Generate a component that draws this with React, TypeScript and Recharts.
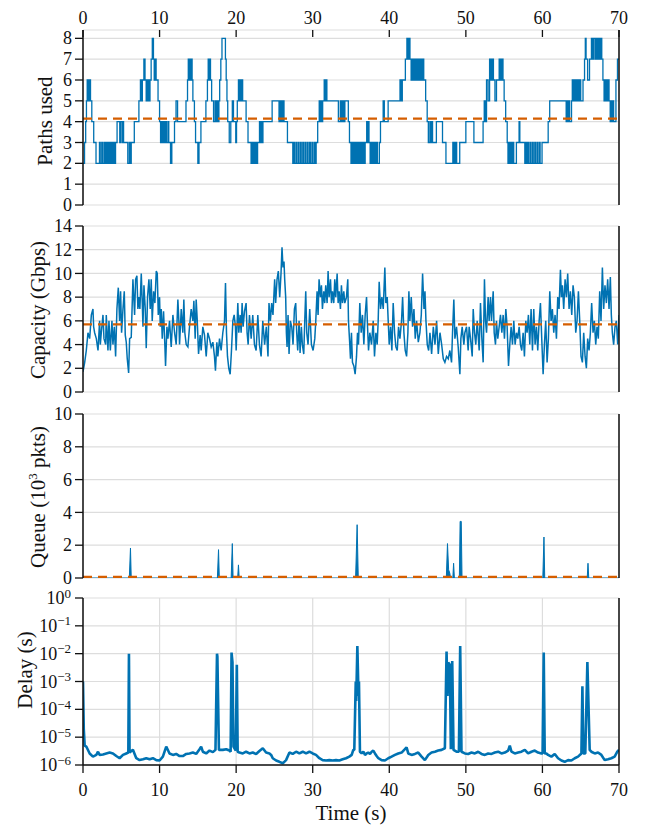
import React from 'react';
import {
  LineChart,
  AreaChart,
  Line,
  Area,
  XAxis,
  YAxis,
  CartesianGrid,
  ReferenceLine,
} from 'recharts';

// ---- palette & type ----
const BLUE = '#0072B2';
const ORANGE = '#D55E00';
const GRID = '#dddddd';
const AXIS = '#111111';
const FONT = '"Liberation Serif", "Times New Roman", serif';

// ---- axis ticks ----
const timeTicks = [0, 10, 20, 30, 40, 50, 60, 70];
const pathsTicks = [0, 1, 2, 3, 4, 5, 6, 7, 8];
const capacityTicks = [0, 2, 4, 6, 8, 10, 12, 14];
const queueTicks = [0, 2, 4, 6, 8, 10];
const delayTicks = [1e-6, 1e-5, 1e-4, 1e-3, 1e-2, 1e-1, 1];

// ---- run averages (dashed) ----
const pathsMean = 4.15;
const capacityMean = 5.7;
const queueMean = 0.07;

// ---- series: [time (s), value] ----
const pathsUsed: [number, number][] = [
  [0, 2], [0.2, 3], [0.35, 4], [0.45, 5], [0.55, 6], [0.65, 5], [0.72, 6], [0.8, 5], [0.88, 6], [0.98, 5],
  [1.15, 4], [1.4, 3], [1.7, 2], [2.15, 3], [2.25, 2], [2.45, 3], [2.55, 2], [2.75, 3], [2.85, 2], [3.0, 3],
  [3.1, 2], [3.25, 3], [3.35, 2], [3.5, 3], [3.6, 2], [3.75, 3], [3.85, 2], [4.0, 3], [4.1, 2], [4.25, 3],
  [4.45, 4], [4.8, 3], [4.9, 4], [5.1, 3], [5.2, 4], [5.3, 3], [5.85, 2], [6.05, 3], [6.15, 2], [6.3, 3],
  [6.7, 4], [7.3, 5], [7.5, 6], [7.65, 5], [7.75, 6], [7.95, 7], [8.1, 6], [8.25, 5], [8.35, 6], [8.45, 5],
  [8.55, 6], [8.65, 5], [8.75, 6], [8.9, 7], [9.05, 8], [9.2, 7], [9.3, 6], [9.4, 7], [9.55, 6], [9.8, 5],
  [10.0, 4], [10.13, 3], [10.3, 4], [10.4, 3], [10.55, 4], [10.65, 3], [10.8, 4], [10.9, 3], [11.1, 4], [11.2, 3],
  [11.43, 2], [11.6, 3], [11.95, 4], [12.15, 5], [12.35, 4], [13.45, 5], [13.65, 6], [13.75, 7], [13.85, 6], [13.95, 7],
  [14.05, 6], [14.15, 7], [14.25, 6], [14.35, 5], [14.55, 4], [14.7, 3], [15.0, 2], [15.15, 3], [15.4, 4], [16.05, 5],
  [16.25, 6], [16.35, 7], [16.45, 6], [16.55, 7], [16.65, 6], [16.8, 5], [17.05, 4], [17.25, 5], [17.4, 4], [17.5, 5],
  [17.6, 4], [17.75, 5], [17.85, 6], [18.0, 7], [18.15, 8], [18.6, 7], [18.7, 6], [18.8, 5], [18.9, 4], [19.1, 3],
  [19.3, 4], [19.5, 5], [19.65, 4], [19.95, 3], [20.05, 4], [20.15, 5], [20.3, 6], [20.4, 5], [20.5, 6], [20.6, 5],
  [20.7, 6], [20.85, 5], [21.3, 4], [21.55, 3], [21.95, 2], [22.1, 3], [22.2, 2], [22.35, 3], [22.45, 2], [22.6, 3],
  [22.7, 2], [22.8, 3], [23.05, 4], [23.15, 3], [23.25, 4], [23.4, 3], [23.5, 4], [24.7, 5], [25.6, 4], [25.7, 5],
  [25.8, 4], [25.9, 5], [26.0, 4], [26.1, 5], [26.25, 4], [26.7, 3], [27.4, 2], [27.5, 3], [27.6, 2], [27.8, 3],
  [27.9, 2], [28.1, 3], [28.2, 2], [28.4, 3], [28.5, 2], [28.7, 3], [28.8, 2], [29.0, 3], [29.1, 2], [29.3, 3],
  [29.4, 2], [29.6, 3], [29.7, 2], [29.9, 3], [30.0, 2], [30.2, 3], [30.3, 2], [30.45, 3], [30.65, 4], [30.85, 5],
  [30.95, 4], [31.05, 5], [31.15, 4], [31.3, 5], [31.5, 6], [31.6, 5], [31.7, 6], [31.85, 5], [33.35, 4], [33.6, 5],
  [33.7, 4], [33.8, 5], [33.9, 4], [34.0, 5], [34.1, 4], [34.2, 5], [34.65, 4], [34.8, 3], [35.0, 2], [35.15, 3],
  [35.25, 2], [35.4, 3], [35.5, 2], [35.6, 3], [35.7, 2], [35.85, 3], [35.95, 2], [36.1, 3], [36.2, 2], [36.35, 3],
  [36.45, 2], [36.6, 3], [36.7, 2], [36.85, 3], [37.05, 4], [37.15, 3], [37.25, 4], [37.35, 3], [37.5, 2], [37.6, 3],
  [37.7, 2], [37.85, 3], [37.95, 2], [38.1, 3], [38.2, 2], [38.35, 3], [38.45, 2], [38.7, 3], [38.85, 4], [39.2, 5],
  [39.35, 4], [39.85, 5], [41.4, 6], [41.55, 5], [41.7, 6], [42.1, 7], [42.3, 8], [42.45, 7], [42.55, 8], [42.7, 7],
  [42.85, 6], [42.95, 7], [43.05, 6], [43.15, 7], [43.25, 6], [43.35, 7], [43.45, 6], [43.55, 7], [43.65, 6], [43.75, 7],
  [43.85, 6], [43.95, 7], [44.05, 6], [44.15, 7], [44.25, 6], [44.35, 7], [44.5, 6], [44.75, 5], [44.95, 4], [45.1, 3],
  [45.3, 4], [45.4, 3], [45.55, 4], [45.65, 3], [46.15, 4], [46.95, 3], [47.4, 2], [48.3, 3], [48.4, 2], [48.5, 3],
  [48.6, 2], [48.7, 3], [48.8, 2], [49.2, 3], [50.0, 4], [51.05, 3], [52.25, 4], [52.4, 5], [52.55, 4], [52.7, 6],
  [52.9, 5], [53.1, 7], [53.2, 6], [53.3, 7], [53.4, 6], [53.5, 7], [53.6, 6], [53.8, 5], [54.0, 6], [54.35, 7],
  [54.45, 6], [54.55, 7], [54.65, 6], [54.75, 7], [54.85, 6], [55.0, 5], [55.2, 4], [55.4, 3], [55.5, 2], [55.65, 3],
  [55.75, 2], [55.9, 3], [56.0, 2], [56.15, 3], [56.25, 2], [56.6, 3], [56.95, 4], [57.05, 3], [57.7, 2], [57.85, 3],
  [57.95, 2], [58.1, 3], [58.2, 2], [58.4, 3], [58.5, 2], [58.7, 3], [58.8, 2], [59.0, 3], [59.1, 2], [59.3, 3],
  [59.4, 2], [59.6, 3], [59.7, 2], [59.95, 3], [60.75, 4], [60.95, 5], [63.1, 4], [63.2, 5], [63.3, 4], [63.45, 5],
  [63.55, 4], [63.8, 5], [63.9, 6], [64.0, 5], [64.1, 6], [64.2, 5], [64.3, 6], [64.4, 5], [64.5, 6], [64.6, 5],
  [64.7, 6], [64.8, 5], [64.9, 6], [65.0, 5], [65.3, 6], [65.5, 7], [65.6, 8], [65.7, 7], [65.9, 6], [66.15, 7],
  [66.4, 8], [66.55, 7], [66.7, 8], [66.9, 7], [67.0, 8], [67.1, 7], [67.2, 8], [67.3, 7], [67.4, 8], [67.5, 7],
  [67.6, 8], [67.75, 7], [67.9, 6], [68.05, 5], [68.15, 6], [68.25, 5], [68.35, 6], [68.45, 5], [68.55, 6], [68.7, 5],
  [68.85, 4], [69.0, 5], [69.1, 4], [69.2, 5], [69.3, 4], [69.6, 6], [69.8, 7], [70, 7],
];

const capacityGbps: [number, number][] = [
  [0, 1.7], [0.22, 2.5], [0.43, 3.5], [0.65, 5], [0.87, 4.5], [1.09, 6.5], [1.3, 7], [1.39, 5.5], [1.52, 5], [1.74, 4.5],
  [1.96, 3.5], [2.17, 6], [2.26, 4], [2.39, 5], [2.61, 6.5], [2.74, 4.5], [2.96, 4], [3.04, 6.5], [3.26, 3.5], [3.39, 6],
  [3.57, 3.5], [3.78, 6], [3.91, 4], [4.09, 5.5], [4.26, 3], [4.43, 7], [4.61, 8.8], [4.78, 6], [4.91, 8.5], [5.04, 5],
  [5.22, 7], [5.39, 8.5], [5.52, 4.8], [5.65, 4.2], [5.78, 2.8], [5.96, 1.6], [6.09, 4.5], [6.3, 4.6], [6.52, 9.5], [6.74, 6.5],
  [6.87, 9.5], [7.04, 9.8], [7.17, 7], [7.3, 8], [7.43, 7], [7.61, 10], [7.74, 7.5], [7.83, 5.5], [7.96, 9], [8.13, 7],
  [8.26, 3.7], [8.43, 8], [8.61, 9.5], [8.78, 7], [8.91, 9.5], [9.04, 6], [9.22, 8.5], [9.39, 7.5], [9.57, 10.2], [9.7, 10],
  [9.83, 6.5], [10.0, 8], [10.09, 5.5], [10.22, 7], [10.35, 4.5], [10.52, 6.8], [10.7, 3.8], [10.78, 2.2], [10.96, 5.5], [11.09, 4.5],
  [11.3, 6], [11.52, 3.8], [11.74, 6.5], [11.96, 5], [12.17, 4], [12.39, 7.8], [12.52, 6], [12.61, 4], [12.83, 7], [13.04, 5],
  [13.17, 7.8], [13.3, 5], [13.48, 4], [13.7, 3.8], [13.91, 5.5], [14.13, 7], [14.35, 6], [14.48, 7.7], [14.65, 4.5], [14.78, 7.8],
  [14.91, 6.2], [15.09, 3.2], [15.3, 4.8], [15.43, 3.5], [15.65, 5.5], [15.87, 4.8], [16.09, 3], [16.3, 5], [16.52, 4.5], [16.74, 3.8],
  [16.96, 4.2], [17.17, 3], [17.3, 1.8], [17.48, 4.2], [17.61, 3], [17.83, 4.5], [18.04, 3.5], [18.26, 5], [18.48, 6], [18.61, 9.2],
  [18.74, 5], [18.87, 3], [19.04, 2], [19.22, 1.5], [19.39, 3.5], [19.57, 6], [19.74, 6.5], [19.91, 5.5], [20.0, 3.5], [20.22, 7.5],
  [20.35, 5], [20.52, 6.5], [20.65, 5], [20.78, 7.5], [20.91, 5.5], [21.09, 6.8], [21.3, 7.5], [21.43, 5], [21.57, 4], [21.74, 6.5],
  [21.96, 4.5], [22.17, 6.5], [22.39, 4], [22.61, 3.5], [22.83, 6.5], [23.04, 4], [23.26, 3], [23.48, 6], [23.72, 4], [23.94, 5.5],
  [24.16, 3], [24.29, 7.5], [24.47, 6], [24.64, 7.5], [24.81, 6.5], [25.03, 9.5], [25.16, 7.5], [25.34, 9.5], [25.51, 10.2], [25.69, 8],
  [25.86, 10], [25.99, 12.2], [26.12, 10.5], [26.25, 11], [26.34, 9.5], [26.47, 8], [26.56, 5], [26.65, 3.8], [26.78, 6.5], [26.91, 3.2],
  [27.08, 6], [27.26, 5.5], [27.43, 4], [27.61, 7], [27.78, 7.5], [27.91, 5], [28.04, 3.5], [28.22, 6], [28.35, 3.3], [28.52, 5.5],
  [28.65, 4], [28.83, 3.2], [28.96, 6], [29.09, 8.5], [29.22, 5], [29.39, 4], [29.61, 7], [29.83, 4], [30.05, 3.5], [30.27, 4.5],
  [30.4, 6], [30.57, 8.5], [30.7, 6.5], [30.83, 9.5], [31.01, 8], [31.14, 9], [31.27, 7], [31.44, 8.5], [31.57, 7.5], [31.7, 9],
  [31.88, 7.5], [32.01, 10.2], [32.14, 8], [32.32, 9.5], [32.45, 7.5], [32.58, 8.5], [32.75, 7.5], [32.88, 9.5], [33.01, 8], [33.19, 10],
  [33.32, 7.5], [33.45, 8.5], [33.62, 7], [33.75, 9], [33.89, 7.5], [34.06, 8.5], [34.19, 7.5], [34.41, 8], [34.58, 9.5], [34.67, 6],
  [34.84, 4], [34.93, 2.8], [35.06, 5], [35.19, 2.5], [35.37, 2.2], [35.54, 1.5], [35.72, 3], [35.85, 5], [35.98, 4], [36.15, 7.5],
  [36.33, 5], [36.5, 6.5], [36.68, 4], [36.85, 6.5], [37.03, 8], [37.16, 5.5], [37.29, 3.5], [37.46, 5], [37.68, 4], [37.9, 6],
  [38.07, 3], [38.25, 5], [38.42, 4], [38.55, 6], [38.68, 9.3], [38.86, 7], [39.03, 8], [39.21, 7], [39.42, 10.5], [39.55, 7.5],
  [39.73, 8], [39.86, 6], [39.99, 4], [40.17, 5.5], [40.34, 3.5], [40.51, 7.5], [40.69, 5], [40.86, 3.8], [41.04, 3.5], [41.21, 5.5],
  [41.39, 4.5], [41.6, 6], [41.74, 8], [41.91, 5], [42.08, 3.5], [42.26, 3], [42.43, 5], [42.56, 8.5], [42.69, 6], [42.87, 8],
  [43.04, 5.5], [43.22, 7], [43.39, 4.5], [43.57, 6], [43.79, 4.2], [44.0, 5], [44.18, 6.5], [44.35, 10], [44.53, 7], [44.66, 8.5],
  [44.79, 6], [44.96, 4], [45.14, 3.5], [45.31, 5], [45.53, 3.2], [45.75, 5.5], [45.97, 4], [46.18, 6], [46.4, 3.2], [46.62, 5],
  [46.84, 4], [47.05, 2.8], [47.26, 2.5], [47.48, 3], [47.7, 2.8], [47.91, 3.5], [48.13, 2.5], [48.26, 5], [48.43, 7.8], [48.57, 4.5],
  [48.78, 5.5], [49.0, 3.8], [49.22, 1.5], [49.35, 4.5], [49.52, 5.5], [49.74, 4], [49.87, 5], [50.09, 5.5], [50.3, 3.5], [50.43, 5.5],
  [50.61, 4.5], [50.83, 3], [50.96, 7], [51.13, 5], [51.3, 4], [51.48, 6], [51.74, 3.5], [51.91, 7.5], [52.09, 4.5], [52.26, 2.5],
  [52.43, 9.5], [52.57, 6], [52.7, 5], [52.91, 8], [53.04, 6], [53.22, 8], [53.35, 6], [53.57, 8.5], [53.7, 5], [53.87, 4],
  [54.0, 6], [54.17, 4.5], [54.35, 5.5], [54.52, 6.5], [54.7, 5], [54.87, 6.5], [55.04, 4.5], [55.22, 7], [55.39, 5.5], [55.57, 2.2],
  [55.74, 4], [55.91, 5.5], [56.09, 4], [56.26, 6], [56.43, 4], [56.61, 5], [56.78, 4.5], [56.96, 5.5], [57.13, 4], [57.3, 3.5],
  [57.48, 5], [57.65, 3], [57.83, 6], [58.0, 5], [58.17, 6.5], [58.35, 4], [58.52, 7], [58.7, 3.5], [58.87, 7], [59.04, 4],
  [59.22, 5.5], [59.39, 3.5], [59.57, 6], [59.74, 7.5], [59.91, 4.5], [60.09, 1.5], [60.26, 4], [60.43, 6], [60.61, 2.5], [60.78, 4.5],
  [60.96, 8.5], [61.13, 6], [61.3, 7], [61.48, 5], [61.65, 6.5], [61.83, 4.5], [62.0, 8], [62.17, 7], [62.35, 10.3], [62.48, 8],
  [62.61, 9], [62.78, 7], [62.96, 9.5], [63.13, 8], [63.3, 10], [63.48, 7], [63.65, 8.5], [63.83, 6.5], [64.0, 9], [64.17, 8],
  [64.35, 5], [64.52, 6], [64.7, 8.5], [64.87, 6], [65.04, 3], [65.22, 2.5], [65.39, 5], [65.57, 3], [65.74, 2], [65.91, 4.5],
  [66.09, 3.5], [66.26, 5], [66.43, 7.5], [66.61, 5], [66.78, 6], [66.96, 4], [67.13, 5.5], [67.3, 4.5], [67.48, 8.5], [67.65, 6],
  [67.83, 10.5], [68.0, 7], [68.17, 9], [68.35, 7.5], [68.52, 9.5], [68.7, 7], [68.87, 9.7], [69.0, 6.5], [69.13, 5], [69.3, 4],
  [69.48, 5.5], [69.65, 6], [69.83, 4], [70, 6.5],
];

const queueKpkts: [number, number][] = [
  [0, 0], [6.05, 0], [6.2, 1.83], [6.3, 0], [17.55, 0], [17.7, 1.73], [17.8, 0], [19.35, 0], [19.5, 2.1], [19.6, 0],
  [20.2, 0], [20.3, 0.8], [20.4, 0], [35.6, 0], [35.8, 3.25], [35.95, 0], [47.45, 0], [47.6, 2.1], [47.75, 0.5], [47.9, 0.3],
  [48.0, 0], [48.3, 0], [48.4, 0.9], [48.5, 0], [49.15, 0], [49.25, 3.45], [49.4, 3.45], [49.5, 0], [60.05, 0], [60.2, 2.5],
  [60.3, 0], [65.05, 0], [65.1, 0.1], [65.15, 0], [65.85, 0], [65.95, 0.9], [66.05, 0], [70, 0],
];

const delaySec: [number, number][] = [
  [0, 1.0e-3], [0.1, 2.0e-5], [0.22, 5.0e-6], [0.43, 4.6e-6], [0.87, 2.6e-6], [1.3, 2.0e-6], [1.74, 2.3e-6], [1.96, 3.0e-6], [2.17, 2.3e-6], [2.61, 2.4e-6],
  [3.04, 2.6e-6], [3.48, 2.8e-6], [3.91, 2.6e-6], [4.35, 2.1e-6], [4.78, 1.75e-6], [5.22, 2.3e-6], [5.65, 2.6e-6], [5.92, 2.8e-6], [6.0, 1.0e-2], [6.08, 2.8e-6],
  [6.52, 3.5e-6], [6.96, 1.75e-6], [7.39, 1.5e-6], [7.83, 1.6e-6], [8.26, 1.75e-6], [8.7, 1.6e-6], [9.13, 1.75e-6], [9.57, 1.5e-6], [10.0, 1.45e-6], [10.43, 2.0e-6],
  [10.87, 4.6e-6], [11.3, 2.6e-6], [11.74, 2.3e-6], [12.17, 2.5e-6], [12.61, 2.1e-6], [13.04, 2.1e-6], [13.48, 2.5e-6], [13.91, 2.6e-6], [14.35, 2.8e-6], [14.78, 2.5e-6],
  [15.22, 3.7e-6], [15.43, 4.6e-6], [15.65, 3.0e-6], [16.09, 2.6e-6], [16.52, 3.3e-6], [16.96, 2.9e-6], [17.3, 3.5e-6], [17.5, 1.0e-2], [17.55, 8.0e-3], [17.75, 3.5e-6],
  [18.26, 3.5e-6], [18.7, 3.7e-6], [19.13, 3.3e-6], [19.28, 3.0e-6], [19.4, 1.1e-2], [19.52, 5.0e-3], [19.65, 4.6e-6], [19.95, 3.3e-6], [20.09, 4.0e-3], [20.2, 3.0e-6],
  [20.43, 2.8e-6], [20.87, 2.6e-6], [21.3, 3.0e-6], [21.74, 2.6e-6], [22.17, 2.8e-6], [22.61, 2.5e-6], [23.04, 3.2e-6], [23.48, 4.0e-6], [23.91, 2.8e-6], [24.35, 2.6e-6],
  [24.57, 2.3e-6], [24.78, 1.75e-6], [25.22, 1.45e-6], [25.65, 1.3e-6], [26.09, 1.15e-6], [26.52, 1.5e-6], [26.96, 2.8e-6], [27.39, 2.5e-6], [27.83, 3.0e-6], [28.26, 2.6e-6],
  [28.7, 3.0e-6], [29.13, 2.6e-6], [29.57, 3.0e-6], [30.0, 2.6e-6], [30.43, 2.3e-6], [30.87, 1.75e-6], [31.3, 1.5e-6], [31.74, 1.45e-6], [32.17, 1.5e-6], [32.61, 1.45e-6],
  [33.04, 1.5e-6], [33.48, 1.45e-6], [33.91, 1.6e-6], [34.35, 1.75e-6], [34.78, 2.0e-6], [35.09, 2.3e-6], [35.3, 3.5e-6], [35.43, 3.5e-6], [35.62, 1.0e-3], [35.68, 2.0e-4],
  [35.83, 1.9e-2], [35.98, 3.0e-4], [36.04, 1.0e-3], [36.17, 3.0e-6], [36.39, 2.6e-6], [36.61, 3.0e-6], [36.83, 2.3e-6], [37.04, 2.6e-6], [37.26, 2.8e-6], [37.48, 2.5e-6],
  [37.7, 3.0e-6], [37.91, 3.3e-6], [38.13, 2.6e-6], [38.35, 2.1e-6], [38.57, 1.75e-6], [39.0, 1.5e-6], [39.43, 1.45e-6], [39.87, 1.75e-6], [40.3, 2.0e-6], [40.74, 2.3e-6],
  [41.17, 2.6e-6], [41.61, 2.8e-6], [42.04, 3.7e-6], [42.26, 4.3e-6], [42.48, 2.6e-6], [42.91, 2.3e-6], [43.35, 2.5e-6], [43.78, 2.8e-6], [44.22, 2.0e-6], [44.65, 1.5e-6],
  [45.09, 2.3e-6], [45.52, 2.8e-6], [45.96, 3.0e-6], [46.39, 3.3e-6], [46.83, 3.5e-6], [47.26, 4.0e-6], [47.48, 1.2e-2], [47.6, 3.0e-4], [47.7, 4.8e-3], [47.91, 4.0e-3],
  [48.04, 3.7e-6], [48.22, 5.4e-3], [48.39, 3.5e-6], [48.78, 3.0e-6], [49.09, 3.0e-6], [49.26, 1.9e-2], [49.43, 3.0e-6], [49.87, 2.6e-6], [50.3, 2.5e-6], [50.74, 2.8e-6],
  [51.17, 2.6e-6], [51.61, 3.0e-6], [52.04, 2.5e-6], [52.48, 2.3e-6], [52.91, 2.6e-6], [53.35, 2.5e-6], [53.78, 2.8e-6], [54.22, 3.0e-6], [54.65, 2.6e-6], [55.09, 2.8e-6],
  [55.52, 3.3e-6], [55.74, 5.0e-6], [55.96, 3.0e-6], [56.39, 2.6e-6], [56.83, 2.8e-6], [57.26, 3.0e-6], [57.7, 3.5e-6], [58.13, 2.6e-6], [58.57, 3.0e-6], [59.0, 3.3e-6],
  [59.43, 2.8e-6], [59.87, 2.6e-6], [60.02, 2.6e-6], [60.17, 1.1e-2], [60.3, 2.6e-6], [60.52, 2.6e-6], [60.74, 2.3e-6], [61.17, 2.0e-6], [61.61, 2.5e-6], [62.04, 1.75e-6],
  [62.48, 1.45e-6], [62.91, 1.3e-6], [63.35, 1.5e-6], [63.78, 1.45e-6], [64.22, 1.75e-6], [64.65, 2.0e-6], [65.09, 2.6e-6], [65.22, 6.7e-4], [65.35, 2.6e-6], [65.6, 2.6e-6],
  [65.87, 5.0e-3], [66.17, 3.5e-6], [66.39, 3.0e-6], [66.83, 2.6e-6], [67.26, 2.8e-6], [67.7, 2.3e-6], [68.13, 1.5e-6], [68.57, 1.6e-6], [69.0, 1.75e-6], [69.43, 2.0e-6],
  [69.78, 3.0e-6], [70, 3.5e-6],
];

// ---- chart rows ----
const toRows = (pairs: [number, number][]) => pairs.map(([t, v]) => ({ t, v }));
const pathsRows = toRows(pathsUsed);
const capacityRows = toRows(capacityGbps);
const queueRows = toRows(queueKpkts);
const delayRows = toRows(delaySec);

// ---- geometry shared by all panels ----
const W = 645;
const MARGIN_LEFT = 20;
const Y_AXIS_W = 63;
const MARGIN_RIGHT = 26;
const TICK_FONT = 18;

// ---- tick renderers ----
const LeftTick = (props: any) => {
  const { x, y, payload } = props;
  return (
    <g>
      <line x1={x - 8} x2={x} y1={y} y2={y} stroke={AXIS} strokeWidth={1.3} />
      <text x={x - 11} y={y} dy="0.34em" textAnchor="end" fontFamily={FONT} fontSize={TICK_FONT} fill="#111">
        {payload.value}
      </text>
    </g>
  );
};

const LogTick = (props: any) => {
  const { x, y, payload } = props;
  const exp = Math.round(Math.log10(payload.value));
  const label = exp === 0 ? '0' : '\u2212' + Math.abs(exp);
  return (
    <g>
      <line x1={x - 8} x2={x} y1={y} y2={y} stroke={AXIS} strokeWidth={1.3} />
      <text x={x - 12} y={y} dy="0.34em" textAnchor="end" fontFamily={FONT} fontSize={TICK_FONT} fill="#111">
        10
        <tspan dy="-0.5em" fontSize={13}>{label}</tspan>
      </text>
    </g>
  );
};

const TopTick = (props: any) => {
  const { x, y, payload } = props;
  return (
    <g>
      <line x1={x} x2={x} y1={y} y2={y + 7} stroke={AXIS} strokeWidth={1.3} />
      <text x={x} y={y - 6} textAnchor="middle" fontFamily={FONT} fontSize={TICK_FONT} fill="#111">
        {payload.value}
      </text>
    </g>
  );
};

const BottomTick = (props: any) => {
  const { x, y, payload } = props;
  return (
    <g>
      <line x1={x} x2={x} y1={y} y2={y + 8} stroke={AXIS} strokeWidth={1.3} />
      <text x={x} y={y + 31} textAnchor="middle" fontFamily={FONT} fontSize={TICK_FONT} fill="#111">
        {payload.value}
      </text>
    </g>
  );
};

const axisLine = { stroke: AXIS, strokeWidth: 1.5 };

const timeAxis = (withTicks: boolean) => (
  <XAxis
    type="number"
    dataKey="t"
    domain={[0, 70]}
    ticks={timeTicks}
    interval={0}
    allowDataOverflow
    height={withTicks ? 50 : 0}
    axisLine={axisLine}
    tickLine={false}
    tickSize={0}
    tickMargin={0}
    tick={withTicks ? <BottomTick /> : false}
  />
);

const rightSpine = <ReferenceLine x={70} stroke={AXIS} strokeWidth={1.5} />;

const meanLine = (y: number) => (
  <ReferenceLine y={y} stroke={ORANGE} strokeWidth={2.2} strokeDasharray="9 6" />
);

const grid = <CartesianGrid stroke={GRID} strokeWidth={1.2} />;

// ---- axis titles (HTML overlay) ----
const titleStyle: React.CSSProperties = {
  position: 'absolute',
  fontFamily: FONT,
  fontSize: 21,
  lineHeight: 1,
  color: '#111',
  whiteSpace: 'nowrap',
};

const VTitle = ({ cx, cy, children }: { cx: number; cy: number; children: React.ReactNode }) => (
  <div style={{ ...titleStyle, left: cx, top: cy, transform: 'translate(-50%, -50%) rotate(-90deg)' }}>{children}</div>
);

export default function App() {
  return (
    <div style={{ position: 'absolute', left: 0, top: 0, width: W, height: 827, background: '#fff' }}>
      {/* Paths used */}
      <div style={{ position: 'absolute', left: 0, top: 0 }}>
        <LineChart width={W} height={225} data={pathsRows} margin={{ top: 0, right: MARGIN_RIGHT, bottom: 20, left: MARGIN_LEFT }}>
          {grid}
          <XAxis
            xAxisId="top"
            orientation="top"
            type="number"
            dataKey="t"
            domain={[0, 70]}
            ticks={timeTicks}
            interval={0}
            height={30}
            axisLine={false}
            tickLine={false}
            tickSize={0}
            tickMargin={0}
            tick={<TopTick />}
          />
          {timeAxis(false)}
          <YAxis
            type="number"
            domain={[0, 8.4]}
            ticks={pathsTicks}
            interval={0}
            width={Y_AXIS_W}
            allowDataOverflow
            axisLine={axisLine}
            tickLine={false}
            tickSize={0}
            tickMargin={0}
            tick={<LeftTick />}
          />
          <Line type="stepAfter" dataKey="v" stroke={BLUE} strokeWidth={1.3} dot={false} isAnimationActive={false} />
          {meanLine(pathsMean)}
          {rightSpine}
        </LineChart>
      </div>

      {/* Capacity */}
      <div style={{ position: 'absolute', left: 0, top: 216 }}>
        <LineChart width={W} height={190} data={capacityRows} margin={{ top: 10, right: MARGIN_RIGHT, bottom: 14, left: MARGIN_LEFT }}>
          {grid}
          {timeAxis(false)}
          <YAxis
            type="number"
            domain={[0, 14]}
            ticks={capacityTicks}
            interval={0}
            width={Y_AXIS_W}
            allowDataOverflow
            axisLine={axisLine}
            tickLine={false}
            tickSize={0}
            tickMargin={0}
            tick={<LeftTick />}
          />
          <Line type="linear" dataKey="v" stroke={BLUE} strokeWidth={1.5} dot={false} isAnimationActive={false} />
          {meanLine(capacityMean)}
          {rightSpine}
        </LineChart>
      </div>

      {/* Queue */}
      <div style={{ position: 'absolute', left: 0, top: 404 }}>
        <AreaChart width={W} height={190} data={queueRows} margin={{ top: 10, right: MARGIN_RIGHT, bottom: 16, left: MARGIN_LEFT }}>
          {grid}
          {timeAxis(false)}
          <YAxis
            type="number"
            domain={[0, 10]}
            ticks={queueTicks}
            interval={0}
            width={Y_AXIS_W}
            allowDataOverflow
            axisLine={axisLine}
            tickLine={false}
            tickSize={0}
            tickMargin={0}
            tick={<LeftTick />}
          />
          <Area
            type="linear"
            dataKey="v"
            stroke={BLUE}
            strokeWidth={1}
            fill={BLUE}
            fillOpacity={1}
            baseValue={0}
            dot={false}
            isAnimationActive={false}
          />
          {meanLine(queueMean)}
          {rightSpine}
        </AreaChart>
      </div>

      {/* Delay */}
      <div style={{ position: 'absolute', left: 0, top: 578 }}>
        <LineChart width={W} height={249} data={delayRows} margin={{ top: 20, right: MARGIN_RIGHT, bottom: 12, left: MARGIN_LEFT }}>
          {grid}
          {timeAxis(true)}
          <YAxis
            type="number"
            scale="log"
            domain={[1e-6, 1]}
            ticks={delayTicks}
            interval={0}
            width={Y_AXIS_W}
            allowDataOverflow
            axisLine={axisLine}
            tickLine={false}
            tickSize={0}
            tickMargin={0}
            tick={<LogTick />}
          />
          <Line
            type="linear"
            dataKey="v"
            stroke={BLUE}
            strokeWidth={2.6}
            strokeLinejoin="bevel"
            dot={false}
            isAnimationActive={false}
          />
          {rightSpine}
        </LineChart>
      </div>

      {/* axis titles */}
      <VTitle cx={45} cy={121}>Paths used</VTitle>
      <VTitle cx={38} cy={310}>Capacity (Gbps)</VTitle>
      <VTitle cx={38} cy={497}>
        Queue (10<sup style={{ fontSize: 13, verticalAlign: 'super', lineHeight: 0 }}>3</sup> pkts)
      </VTitle>
      <VTitle cx={25} cy={670}>Delay (s)</VTitle>
      <div style={{ ...titleStyle, left: 351, top: 813, transform: 'translate(-50%, -50%)' }}>Time (s)</div>
    </div>
  );
}
